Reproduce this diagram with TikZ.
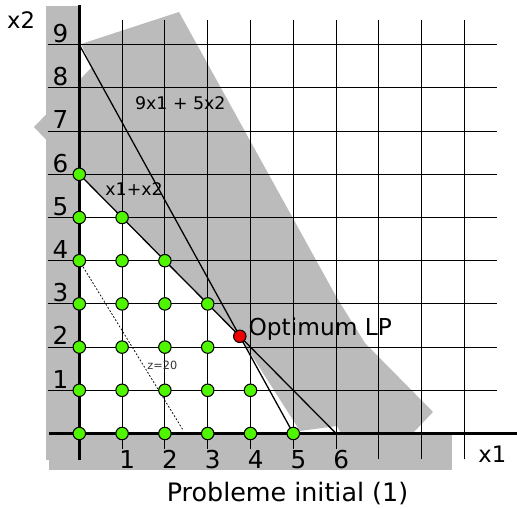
\documentclass[tikz,border=0pt]{standalone}
\usepackage{fontspec}
\setmainfont{DejaVu Sans}
\definecolor{grayfill}{RGB}{187,187,187}
\definecolor{ptgreen}{RGB}{80,245,0}
\definecolor{ptred}{RGB}{238,0,0}
\tikzset{
  grayarea/.style={fill=grayfill, draw=none},
  gridline/.style={black, line width=0.65pt},
  axisline/.style={black, line width=1.9pt},
  cline/.style={black, line width=0.85pt},
  zline/.style={black, line width=0.5pt, dash pattern=on 1.2pt off 1.2pt},
  ipt/.style={circle, draw=black, line width=0.7pt, fill=ptgreen, minimum size=0.29cm, inner sep=0pt},
  opt/.style={circle, draw=black, line width=0.7pt, fill=ptred, minimum size=0.29cm, inner sep=0pt},
  axlab/.style={inner sep=0pt, font=\fontsize{16.3}{18}\selectfont},
  varlab/.style={inner sep=0pt, font=\fontsize{15}{17}\selectfont},
  smalllab/.style={inner sep=0pt, font=\fontsize{11.5}{13}\selectfont},
}
\begin{document}
\begin{tikzpicture}[x=0.9953cm,y=1.0047cm]
\useasboundingbox (-1.8442cm,-1.7326cm) rectangle (10.1791cm,10.0814cm);
% gray shapes, in pixel coordinates
\begin{scope}[x=0.023256cm,y=-0.023256cm,shift={(-1.8442cm,10.0814cm)}]
  \path[grayarea] (46,6) rectangle (79.3,460);
  \path[grayarea] (49,433) rectangle (452,470);
  \path[grayarea] (179,12) -- (337,298) -- (365,343) -- (433,412) -- (395,452)
     -- (348,446) -- (337,426) -- (300,431) -- (240,337) -- (79,174)
     -- (34,127) -- (92,67) -- (81,44) -- cycle;
\end{scope}
% grid
\foreach \k in {1,...,9}
  \draw[gridline] (-0.74,\k) -- (9.76,\k);
\foreach \k in {1,...,6}
  \draw[gridline] (\k,-0.35) -- (\k,9.57);
\foreach \k in {7,8,9}
  \draw[gridline] (\k,-0.60) -- (\k,9.57);
% axes
\draw[axisline] (-0.71,0) -- (10.23,0);
\draw[axisline] (0,-0.62) -- (0,9.92);
% constraint lines
\coordinate (a9) at (0,9);
\coordinate (b5) at (5,0);
\coordinate (a6) at (0,6);
\coordinate (b6) at (6,0);
\coordinate (z0) at (0,4);
\coordinate (z1) at (2.43,0.07);
\draw[cline] (a9) -- (b5);
\draw[cline] (a6) -- (b6);
\draw[zline] (z0) -- (z1);
% integer points
\foreach \i/\m in {0/6,1/5,2/4,3/3,4/1,5/0}
  \foreach \j in {0,...,\m}
    \node[ipt] (p\i\j) at (\i,\j) {};
\node[opt] (lpopt) at (3.75,2.25) {};
% axis labels
\foreach \k in {1,...,9}
  \node[axlab, anchor=base] (yl\k) at (-0.44,\k+0.05) {\k};
\foreach \k in {1,...,6}
  \node[axlab, anchor=base] (xl\k) at (\k+0.12,-0.80) {\k};
\node[varlab, anchor=base] (lx2) at (-1.36,9.38) {x2};
\node[varlab, anchor=base] (lx1) at (9.65,-0.67) {x1};
\node[smalllab, anchor=base] (lc1) at (2.36,7.49) {9x1 + 5x2};
\node[smalllab, anchor=base] (lc2) at (1.28,5.52) {x1+x2};
\node[inner sep=0pt, anchor=base, text=black!80, font=\fontsize{7.5}{9}\selectfont] (lz) at (1.94,1.49) {z=20};
\node[varlab, anchor=base west, font=\fontsize{15.4}{17}\selectfont] (lopt) at (3.95,2.28) {Optimum LP};
\node[inner sep=0pt, anchor=base, font=\fontsize{16.8}{19}\selectfont] (title) at (4.865,-1.58) {Probleme initial (1)};
\end{tikzpicture}
\end{document}
